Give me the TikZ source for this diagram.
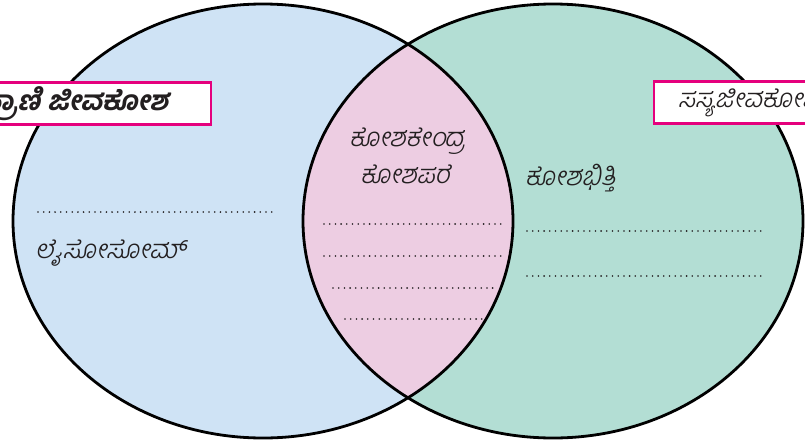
\documentclass[tikz,border=0pt]{standalone}
\usepackage{fontspec}
\newfontfamily\kannada[Script=Kannada,FakeSlant=0.22,UprightFont=* Light,BoldFont=* Bold]{Hind Mysuru}
\usetikzlibrary{positioning}
\definecolor{cellblue}{HTML}{CFE3F5}
\definecolor{cellgreen}{HTML}{B3DED4}
\definecolor{cellpink}{HTML}{EDCDE2}
\definecolor{boxpink}{HTML}{E5007D}
\definecolor{inkgray}{HTML}{231F20}

\begin{document}
\begin{tikzpicture}[x=1pt, y=-1pt,
  vnlabel/.style={font=\kannada\fontsize{26}{30}\selectfont, text=inkgray, inner sep=0pt},
  vnbox/.style={draw=boxpink, line width=2.2pt, fill=white, minimum height=42pt, font=\kannada\fontsize{26}{30}\selectfont, text=inkgray},
  vnline/.style={draw=inkgray, line width=1.8pt, line cap=round, dash pattern=on 0pt off 5.7pt},
  vnedge/.style={draw=black, line width=2.8pt}
]
\useasboundingbox (0,0) rectangle (805,447);
\clip (0,0) rectangle (805,447);
\fill[cellblue] (263,221) ellipse [x radius=250pt, y radius=217pt];
\fill[cellgreen] (553,221) ellipse [x radius=250pt, y radius=217pt];
\begin{scope}
  \clip (263,221) ellipse [x radius=250pt, y radius=217pt];
  \fill[cellpink] (553,221) ellipse [x radius=250pt, y radius=217pt];
\end{scope}
\draw[vnedge] (263,221) ellipse [x radius=250pt, y radius=217pt];
\draw[vnedge] (553,221) ellipse [x radius=250pt, y radius=217pt];

\node[vnbox, font=\kannada\bfseries\fontsize{27}{30}\selectfont, anchor=east, inner xsep=42pt] (animal) at (212,103.5) {ಪ್ರಾಣಿ ಜೀವಕೋಶ};
\node[vnbox, anchor=west, inner xsep=24pt] (plant) at (653,102.5) {ಸಸ್ಯಜೀವಕೋಶ};

\node[vnlabel, anchor=base] (nucleus) at (407,146) {ಕೋಶಕೇಂದ್ರ};
\node[vnlabel, anchor=base] (membrane) at (405,183) {ಕೋಶಪರೆ};
\node[vnlabel, anchor=base west] (wall) at (525,185) {ಕೋಶಭಿತ್ತಿ};
\node[vnlabel, anchor=base west] (lyso) at (35,258) {ಲೈಸೋಸೋಮ್};

\draw[vnline] (38,212) -- (275,212);
\draw[vnline] (324,224) -- (505,224);
\draw[vnline] (324,256) -- (505,256);
\draw[vnline] (333,288) -- (495,288);
\draw[vnline] (345,319) -- (482,319);
\draw[vnline] (527,231) -- (762,231);
\draw[vnline] (527,276) -- (762,276);
\end{tikzpicture}
\end{document}
